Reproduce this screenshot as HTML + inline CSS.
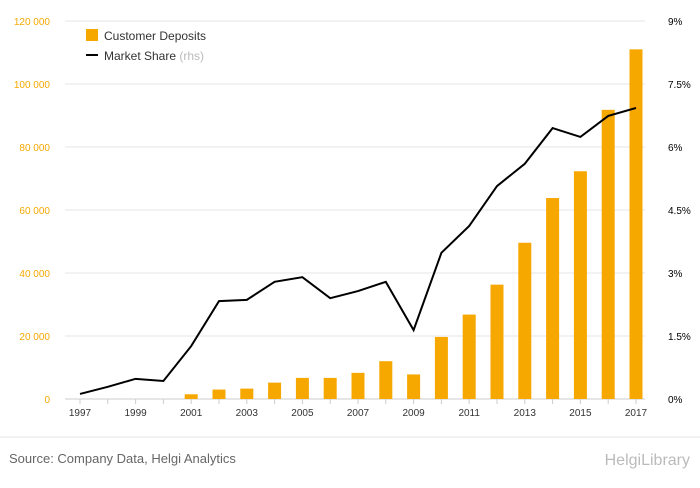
<!DOCTYPE html>
<html><head><meta charset="utf-8"><style>
body{margin:0;background:#fff;font-family:"Liberation Sans",sans-serif;}
svg text{font-family:"Liberation Sans",sans-serif;}
</style></head><body>
<svg width="700" height="483" xmlns="http://www.w3.org/2000/svg" id="chart">
<g id="grid"></g><g id="bars"></g><g id="line"></g><g id="axes"></g>
<g>
<rect x="86" y="29" width="12" height="12" fill="#f7a800"/>
<text x="104" y="40" font-size="12" fill="#333">Customer Deposits</text>
<line x1="86" y1="55" x2="98" y2="55" stroke="#000" stroke-width="2"/>
<text x="104" y="60" font-size="12" fill="#333">Market Share <tspan fill="#bbb">(rhs)</tspan></text>
</g>
<line x1="0" y1="437" x2="700" y2="437" stroke="#e6e6e6"/>
<text x="9" y="463" font-size="13" fill="#666">Source: Company Data, Helgi Analytics</text>
<text x="690" y="465" font-size="16" fill="#bbb" text-anchor="end">HelgiLibrary</text>
</svg>
<script>
const years=[1997,1998,1999,2000,2001,2002,2003,2004,2005,2006,2007,2008,2009,2010,2011,2012,2013,2014,2015,2016,2017];
const deposits=[null,null,null,null,1500,3000,3300,5200,6700,6700,8300,12000,7800,19700,26800,36300,49600,63800,72300,91800,111000];
const share=[0.12,0.29,0.48,0.43,1.26,2.33,2.36,2.79,2.9,2.4,2.57,2.79,1.64,3.48,4.12,5.07,5.6,6.45,6.24,6.74,6.93];
const leftTicks=[0,20000,40000,60000,80000,100000,120000];
const rightTicks=[0,1.5,3,4.5,6,7.5,9];
const rightLabels=["0%","1.5%","3%","4.5%","6%","7.5%","9%"];
const NS="http://www.w3.org/2000/svg";
const x=y=>80+(y-1997)*27.8;
const yL=v=>399-v/120000*378;
const yR=v=>399-v/9*378;
function mk(tag,attrs,parent,txt){const e=document.createElementNS(NS,tag);for(const k in attrs)e.setAttribute(k,attrs[k]);if(txt!==undefined)e.textContent=txt;document.getElementById(parent).appendChild(e);return e;}
leftTicks.forEach((t,i)=>{
 const g=mk('line',{x1:65,x2:645,y1:yL(t),y2:yL(t),stroke:i===0?'#ccc':'#e6e6e6'},'grid');
 
 
 const l=mk('text',{x:50,y:yL(t)+4,'font-size':10,fill:'#f7a800','text-anchor':'end'},'axes',t===0?'0':(t/1000)+' 000');
 
 
 const r=mk('text',{x:668,y:yR(rightTicks[i])+4,'font-size':10,fill:'#000'},'axes',rightLabels[i]);
 
 
});
years.forEach((yr,i)=>{
 const tk=mk('line',{x1:x(yr),x2:x(yr),y1:399,y2:404,stroke:'#ccc'},'axes');
 
 
 if(i%2===0){const t=mk('text',{x:x(yr),y:416,'font-size':10,fill:'#333','text-anchor':'middle'},'axes',String(yr));
 
 }
 if(deposits[i]){const b=mk('rect',{x:x(yr)-6.5,y:yL(deposits[i]),width:13,height:399-yL(deposits[i]),fill:'#f7a800'},'bars');
 
 }
});
const p=mk('polyline',{points:years.map((yr,i)=>x(yr)+','+yR(share[i])).join(' '),fill:'none',stroke:'#000','stroke-width':2},'line');


</script>
</body></html>
